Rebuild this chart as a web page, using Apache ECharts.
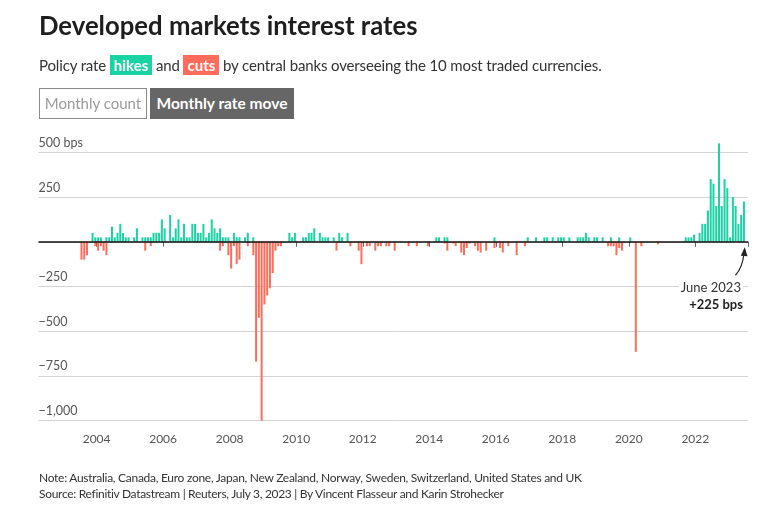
<!DOCTYPE html>
<html><head><meta charset="utf-8">
<script src="https://cdn.jsdelivr.net/npm/echarts/dist/echarts.min.js"></script>
<style>
html,body{margin:0;padding:0;background:#fff;}
#wrap{position:relative;width:783px;height:515px;font-family:Lato,'Noto Sans',sans-serif;color:#222;overflow:hidden;}
#chart{position:absolute;left:0;top:0;width:783px;height:515px;}
.t{position:absolute;white-space:nowrap;}
#title{left:39px;top:12.5px;font-size:25.7px;font-weight:700;line-height:25.7px;color:#1e1e1e;}
#sub{left:39px;top:55px;font-size:15px;line-height:20px;color:#333;letter-spacing:-0.14px;}
.tag{color:#fff;font-weight:700;padding:1px 4px;letter-spacing:0;}
#b1{left:39px;top:88px;width:108px;height:31px;box-sizing:border-box;border:1.5px solid #8a8a8a;color:#9a9a9a;font-size:15px;line-height:28px;text-align:center;}
#b2{left:150px;top:88px;width:144px;height:31px;background:#666;color:#fff;font-weight:700;font-size:15.5px;line-height:31px;text-align:center;}
#note{left:39px;top:470px;font-size:12px;line-height:15px;color:#333;letter-spacing:-0.28px;}
#src{left:39px;top:486px;font-size:12px;line-height:15px;color:#333;letter-spacing:-0.3px;}
</style></head>
<body>
<div id="wrap">
<div id="chart"></div>
<div class="t" id="title">Developed markets interest rates</div>
<div class="t" id="sub">Policy rate <span class="tag" style="background:#19d3a3">hikes</span> and <span class="tag" style="background:#ff6d5a">cuts</span> by central banks overseeing the 10 most traded currencies.</div>
<div class="t" id="b1">Monthly count</div>
<div class="t" id="b2">Monthly rate move</div>
<div class="t" id="note">Note: Australia, Canada, Euro zone, Japan, New Zealand, Norway, Sweden, Switzerland, United States and UK</div>
<div class="t" id="src">Source: Refinitiv Datastream | Reuters, July 3, 2023 | By Vincent Flasseur and Karin Strohecker</div>
</div>
<script>
// ---- DATA ----
const firstMonth = '2002-04';
const lastMonth = '2023-07';
const yearLabels = ['2004','2006','2008','2010','2012','2014','2016','2018','2020','2022'];
const yTicks = [-1000, -750, -500, -250, 0, 250, 500];
const yTickText = ['\u22121,000', '\u2212750', '\u2212500', '\u2212250', '', '250', '500 bps'];

// Monthly sum of policy rate hikes (bps)
const hikes = [
 ['2003-11',50],['2003-12',25],['2004-01',25],['2004-02',25],['2004-04',25],['2004-05',25],['2004-06',85],
 ['2004-07',25],['2004-08',50],['2004-09',100],['2004-10',50],['2004-11',25],['2004-12',25],
 ['2005-02',25],['2005-03',75],['2005-05',25],['2005-06',25],['2005-07',25],['2005-08',25],['2005-09',50],
 ['2005-10',50],['2005-11',50],['2005-12',125],['2006-01',75],['2006-03',150],['2006-04',25],['2006-05',75],
 ['2006-06',125],['2006-07',25],['2006-08',100],['2006-09',25],['2006-10',25],['2006-11',100],['2006-12',100],
 ['2007-01',50],['2007-02',50],['2007-03',100],['2007-04',25],['2007-05',50],['2007-06',125],['2007-07',75],
 ['2007-08',50],['2007-09',75],['2007-10',25],['2007-11',25],['2007-12',25],['2008-02',50],['2008-03',25],
 ['2008-04',25],['2008-06',25],['2008-07',50],['2008-09',25],
 ['2009-10',50],['2009-11',25],['2009-12',50],['2010-03',25],['2010-04',25],['2010-05',50],['2010-06',50],
 ['2010-07',75],['2010-09',50],['2010-10',25],['2010-11',25],['2010-12',25],['2011-02',25],['2011-04',50],
 ['2011-05',25],['2011-07',50],
 ['2014-03',25],['2014-04',25],['2014-06',25],['2014-07',25],['2015-12',25],['2016-12',25],
 ['2017-03',25],['2017-06',25],['2017-07',25],['2017-09',25],['2017-11',25],['2017-12',25],['2018-01',25],
 ['2018-03',25],['2018-06',25],['2018-07',25],['2018-08',25],['2018-09',50],['2018-10',25],['2018-12',25],
 ['2019-01',25],['2019-03',25],['2019-06',25],['2019-09',25],['2020-01',25],
 ['2021-09',25],['2021-10',25],['2021-11',25],['2021-12',40],['2022-02',50],['2022-03',100],['2022-04',100],
 ['2022-05',175],['2022-06',350],['2022-07',325],['2022-08',200],['2022-09',550],['2022-10',200],
 ['2022-11',350],['2022-12',300],['2023-01',25],['2023-02',250],['2023-03',200],['2023-04',100],
 ['2023-05',150],['2023-06',225]
];

// Monthly sum of policy rate cuts (bps)
const cuts = [
 ['2003-07',-100],['2003-08',-100],['2003-09',-75],['2003-12',-25],['2004-01',-50],['2004-02',-25],
 ['2004-03',-50],['2004-04',-75],['2005-06',-50],['2005-08',-25],
 ['2007-09',-50],['2007-10',-25],['2007-12',-75],['2008-01',-150],['2008-02',-25],['2008-03',-125],
 ['2008-04',-100],['2008-07',-25],['2008-09',-75],['2008-10',-670],['2008-11',-425],['2008-12',-1000],
 ['2009-01',-350],['2009-02',-300],['2009-03',-260],['2009-04',-175],['2009-05',-50],['2009-06',-25],
 ['2009-07',-25],
 ['2011-03',-50],['2011-08',-25],['2011-11',-50],['2011-12',-125],['2012-02',-25],['2012-03',-25],
 ['2012-05',-50],['2012-06',-25],['2012-07',-25],['2012-09',-25],['2012-10',-25],['2012-12',-50],
 ['2013-05',-25],['2013-08',-25],['2013-12',-25],
 ['2014-06',-10],['2014-07',-50],['2014-09',-10],['2014-10',-25],['2014-12',-60],['2015-01',-75],
 ['2015-02',-35],['2015-03',-10],['2015-05',-25],['2015-06',-50],['2015-07',-60],['2015-09',-50],
 ['2015-12',-35],['2016-02',-35],['2016-03',-60],['2016-05',-25],['2016-08',-75],['2016-11',-25],
 ['2019-05',-25],['2019-06',-25],['2019-07',-25],['2019-08',-75],['2019-09',-35],['2019-10',-50],
 ['2020-03',-615],['2020-05',-25],['2020-11',-15]
];

// ---- BUILD ----
const months = [];
{
  let [y, m] = firstMonth.split('-').map(Number);
  const [ey, em] = lastMonth.split('-').map(Number);
  while (y < ey || (y === ey && m <= em)) {
    months.push(y + '-' + String(m).padStart(2, '0'));
    m++; if (m > 12) { m = 1; y++; }
  }
}
const hikeMap = new Map(hikes), cutMap = new Map(cuts);
const hikeData = months.map(k => hikeMap.has(k) ? hikeMap.get(k) : '-');
const cutData = months.map(k => cutMap.has(k) ? cutMap.get(k) : '-');
const isYearTick = (i, v) => v.endsWith('-01') && yearLabels.includes(v.slice(0, 4));

const GREEN = '#19d3a3', RED = '#ff6d5a';
const chart = echarts.init(document.getElementById('chart'), null, {renderer: 'canvas'});
chart.setOption({
  animation: false,
  backgroundColor: 'transparent',
  grid: {left: 38.5, right: 34.9, top: 152.3, bottom: 94.3, containLabel: false},
  xAxis: {
    type: 'category', data: months, boundaryGap: true,
    axisLine: {show: false},
    axisTick: {show: true, interval: isYearTick, length: 5, lineStyle: {color: '#666', width: 1}},
    axisLabel: {interval: isYearTick, formatter: v => v.slice(0, 4), color: '#555',
      fontFamily: 'Lato', fontSize: 12, margin: 12, padding: [0, 3, 0, 0]},
    splitLine: {show: false}
  },
  yAxis: {
    type: 'value', min: -1000, max: 500, interval: 250,
    axisLine: {show: false}, axisTick: {show: false},
    axisLabel: {inside: true, margin: 0, align: 'left', verticalAlign: 'bottom', padding: [0, 0, 3, 0],
      color: '#555', fontFamily: 'Lato', fontSize: 12.5,
      formatter: v => { const i = yTicks.indexOf(v); return i >= 0 ? yTickText[i] : ''; }},
    splitLine: {show: true, lineStyle: {color: '#d4d4d4', width: 1}}
  },
  series: [
    {name: 'hikes', type: 'bar', data: hikeData, barWidth: 2, barGap: '-100%', clip: false, silent: true,
     itemStyle: {color: GREEN}},
    {name: 'cuts', type: 'bar', data: cutData, barWidth: 2, barGap: '-100%', clip: false, silent: true,
     itemStyle: {color: RED},
     markLine: {silent: true, symbol: 'none', label: {show: false}, animation: false,
       lineStyle: {color: '#111', width: 1.5, type: 'solid'}, data: [{yAxis: 0}]}}
  ]
});

// annotation for the last bar
const lastIdx = months.indexOf('2023-06');
const [bx, by] = chart.convertToPixel({gridIndex: 0}, [lastIdx, 0]);
chart.setOption({
  graphic: [
    {type: 'text', x: bx - 1, y: by + 46, z: 100,
     style: {text: 'June 2023', font: '13px Lato', fill: '#333', align: 'right', verticalAlign: 'middle',
       backgroundColor: '#fff', padding: [1, 2]}},
    {type: 'text', x: bx - 1, y: by + 63, z: 100,
     style: {text: '+225 bps', font: 'bold 13px Lato', fill: '#1e1e1e', align: 'right', verticalAlign: 'middle'}},
    {type: 'bezierCurve', z: 100,
     shape: {x1: bx - 8.5, y1: by + 33.5, x2: bx, y2: by + 12, cpx1: bx - 1.5, cpy1: by + 26},
     style: {stroke: '#222', lineWidth: 1.2, fill: null}},
    {type: 'polygon', z: 100,
     shape: {points: [[bx + 0.8, by + 5.5], [bx - 3.2, by + 14], [bx + 3.6, by + 14.5]]},
     style: {fill: '#222'}}
  ]
});
</script>
</body></html>
